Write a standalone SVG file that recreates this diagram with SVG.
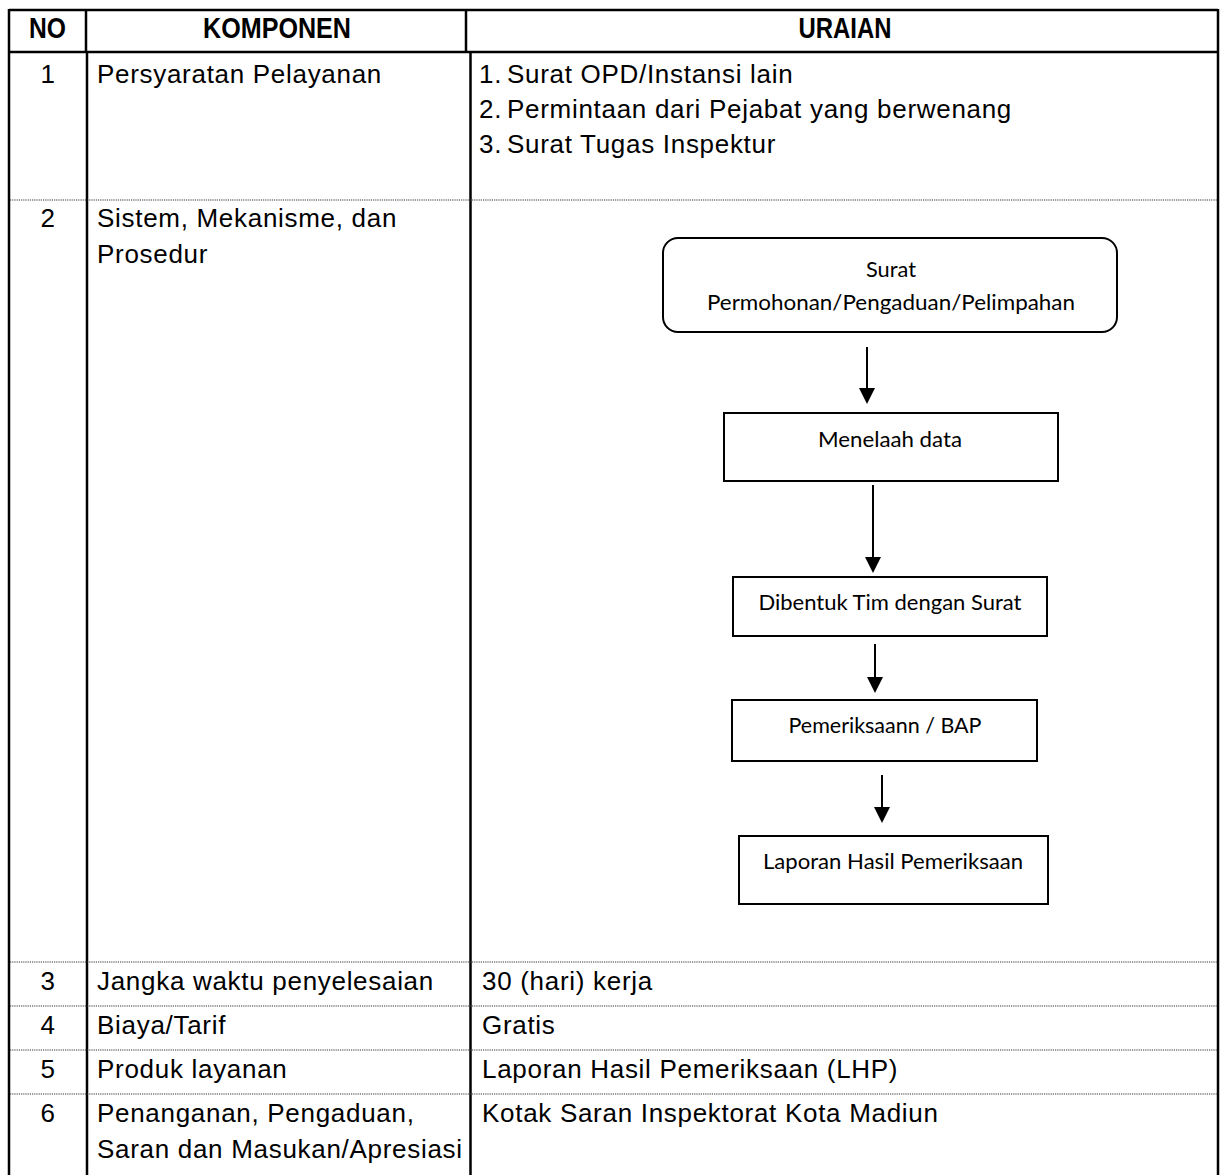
<svg xmlns="http://www.w3.org/2000/svg" width="1223" height="1175" viewBox="0 0 1223 1175">
  <style>
    .rule { stroke: #000; stroke-width: 2.5; fill: none; }
    .dot { stroke: #333; stroke-width: 1.2; stroke-dasharray: 1.2 1; fill: none; }
    .hd { font-family: "Liberation Sans", Arial, sans-serif; font-weight: bold; font-size: 29px; fill: #000; }
    .tx { font-family: "Liberation Sans", Arial, sans-serif; font-size: 26px; letter-spacing: 0.7px; fill: #000; }
    .box { fill: #fff; stroke: #000; stroke-width: 2; }
    .bl { font-family: Lato, "Open Sans", sans-serif; font-size: 22px; fill: #000; text-anchor: middle; }
    .arrow { stroke: #000; stroke-width: 2; fill: none; marker-end: url(#head); }
  </style>
  <defs>
    <marker id="head" viewBox="0 0 16 16" markerWidth="16" markerHeight="16" refX="6" refY="8" orient="auto" markerUnits="userSpaceOnUse">
      <path d="M0,0 L16,8 L0,16 Z" fill="#000"/>
    </marker>
  </defs>
  <rect width="1223" height="1175" fill="#fff"/>

  <!-- table grid -->
  <g id="grid">
    <line class="rule" x1="9" y1="10" x2="1218" y2="10"/>
    <line class="rule" x1="9" y1="52" x2="1218" y2="52"/>
    <line class="rule" x1="9" y1="9" x2="9" y2="1175"/>
    <line class="rule" x1="1218" y1="9" x2="1218" y2="1175"/>
    <line class="rule" x1="86" y1="10" x2="86" y2="52"/>
    <line class="rule" x1="87" y1="52" x2="87" y2="1175"/>
    <line class="rule" x1="466" y1="10" x2="466" y2="52"/>
    <line class="rule" x1="470.5" y1="52" x2="470.5" y2="1175"/>
    <line class="dot" x1="10" y1="200" x2="1217" y2="200"/>
    <line class="dot" x1="10" y1="962" x2="1217" y2="962"/>
    <line class="dot" x1="10" y1="1006" x2="1217" y2="1006"/>
    <line class="dot" x1="10" y1="1050" x2="1217" y2="1050"/>
    <line class="dot" x1="10" y1="1094" x2="1217" y2="1094"/>
  </g>

  <!-- header row -->
  <g id="header">
    <text class="hd" x="47.5" y="38" text-anchor="middle" textLength="37" lengthAdjust="spacingAndGlyphs">NO</text>
    <text class="hd" x="277" y="38" text-anchor="middle" textLength="148" lengthAdjust="spacingAndGlyphs">KOMPONEN</text>
    <text class="hd" x="845" y="38" text-anchor="middle" textLength="93" lengthAdjust="spacingAndGlyphs">URAIAN</text>
  </g>

  <g id="row1">
    <text class="tx" x="48" y="83" text-anchor="middle">1</text>
    <text class="tx" x="97" y="83">Persyaratan Pelayanan</text>
    <text class="tx" x="479" y="83">1.</text>
    <text class="tx" x="507" y="83">Surat OPD/Instansi lain</text>
    <text class="tx" x="479" y="118">2.</text>
    <text class="tx" x="507" y="118">Permintaan dari Pejabat yang berwenang</text>
    <text class="tx" x="479" y="153">3.</text>
    <text class="tx" x="507" y="153">Surat Tugas Inspektur</text>
  </g>

  <g id="row2">
    <text class="tx" x="48" y="227" text-anchor="middle">2</text>
    <text class="tx" x="97" y="227">Sistem, Mekanisme, dan</text>
    <text class="tx" x="97" y="263">Prosedur</text>
  </g>

  <g id="row3">
    <text class="tx" x="48" y="990" text-anchor="middle">3</text>
    <text class="tx" x="97" y="990">Jangka waktu penyelesaian</text>
    <text class="tx" x="482" y="990">30 (hari) kerja</text>
  </g>

  <g id="row4">
    <text class="tx" x="48" y="1034" text-anchor="middle">4</text>
    <text class="tx" x="97" y="1034">Biaya/Tarif</text>
    <text class="tx" x="482" y="1034">Gratis</text>
  </g>

  <g id="row5">
    <text class="tx" x="48" y="1078" text-anchor="middle">5</text>
    <text class="tx" x="97" y="1078">Produk layanan</text>
    <text class="tx" x="482" y="1078">Laporan Hasil Pemeriksaan (LHP)</text>
  </g>

  <g id="row6">
    <text class="tx" x="48" y="1122" text-anchor="middle">6</text>
    <text class="tx" x="97" y="1122">Penanganan, Pengaduan,</text>
    <text class="tx" x="97" y="1158">Saran dan Masukan/Apresiasi</text>
    <text class="tx" x="482" y="1122">Kotak Saran Inspektorat Kota Madiun</text>
  </g>

  <!-- procedure flow -->
  <g id="connectors">
    <line class="arrow" x1="867" y1="347" x2="867" y2="394"/>
    <line class="arrow" x1="873" y1="485" x2="873" y2="563"/>
    <line class="arrow" x1="875" y1="644" x2="875" y2="683"/>
    <line class="arrow" x1="882" y1="775" x2="882" y2="813"/>
  </g>

  <g id="n-surat">
    <rect class="box" x="663" y="238" width="454" height="94" rx="15"/>
    <text class="bl" x="891" y="277" textLength="50" lengthAdjust="spacingAndGlyphs">Surat</text>
    <text class="bl" x="891" y="310" textLength="368" lengthAdjust="spacingAndGlyphs">Permohonan/Pengaduan/Pelimpahan</text>
  </g>

  <g id="n-telaah">
    <rect class="box" x="724" y="413" width="334" height="68"/>
    <text class="bl" x="890" y="447" textLength="144" lengthAdjust="spacingAndGlyphs">Menelaah data</text>
  </g>

  <g id="n-tim">
    <rect class="box" x="733" y="577" width="314" height="59"/>
    <text class="bl" x="890" y="610" textLength="263" lengthAdjust="spacingAndGlyphs">Dibentuk Tim dengan Surat</text>
  </g>

  <g id="n-periksa">
    <rect class="box" x="732" y="700" width="305" height="61"/>
    <text class="bl" x="885" y="733" textLength="193" lengthAdjust="spacingAndGlyphs">Pemeriksaann / BAP</text>
  </g>

  <g id="n-lhp">
    <rect class="box" x="739" y="836" width="309" height="68"/>
    <text class="bl" x="893" y="869" textLength="260" lengthAdjust="spacingAndGlyphs">Laporan Hasil Pemeriksaan</text>
  </g>
</svg>
